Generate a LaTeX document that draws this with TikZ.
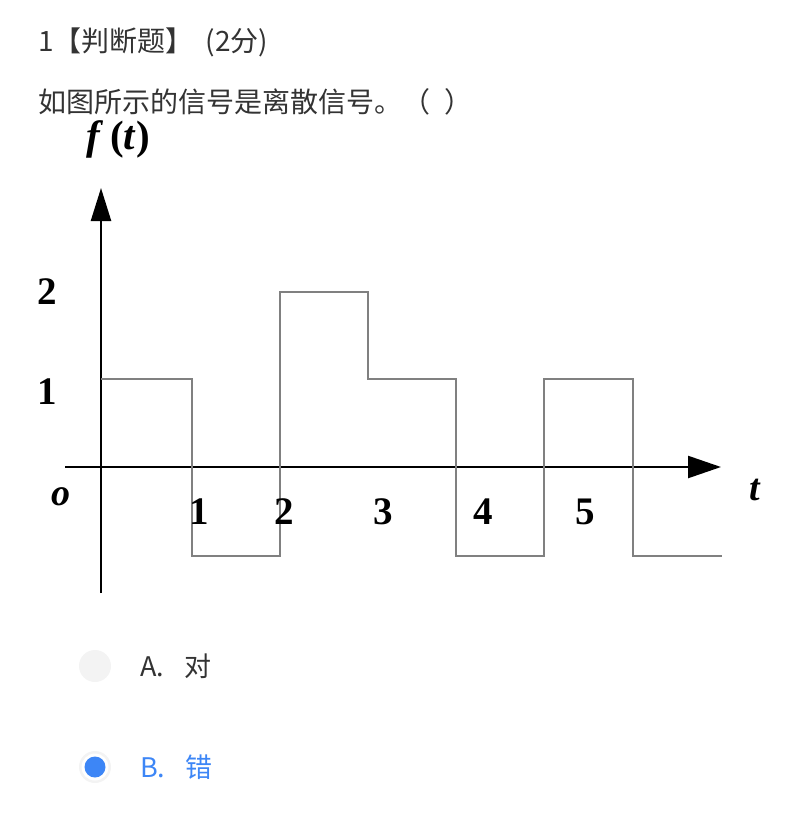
\documentclass[tikz,border=0pt]{standalone}
\usepackage{fontspec}
\setmainfont{Liberation Serif}
\newfontfamily\cjk{Noto Sans CJK SC}
\usetikzlibrary{arrows.meta}
\definecolor{txtgray}{HTML}{333333}
\definecolor{optblue}{HTML}{3D86F6}
\definecolor{sig}{HTML}{808080}
\definecolor{radiogray}{HTML}{F3F3F3}
\begin{document}
\begin{tikzpicture}[x=1pt,y=-1pt,
  cjktext/.style={anchor=west,inner sep=0pt,font=\cjk\fontsize{27}{32}\selectfont,text=txtgray},
  headtext/.style={cjktext,font=\cjk\fontsize{28}{33}\selectfont},
  numlbl/.style={inner sep=0pt,font=\bfseries\fontsize{39}{41}\selectfont},
  axis/.style={line width=2.4pt,black},
  signal/.style={line width=1.6pt,sig},
  radio/.style={circle,inner sep=0pt,minimum size=32pt}]
\useasboundingbox (0,0) rectangle (807,835);
% header texts
\node[headtext] (q) at (38,42) {1【判断题】\hspace{12pt}(2分)};
\node[headtext] (stem) at (38,102) {如图所示的信号是离散信号。（\hspace{14pt}）};
% axes
\coordinate (xs) at (65,467);
\coordinate (xe) at (721,467);
\coordinate (ys) at (101,593);
\coordinate (ye) at (101,188);
\draw[axis,-{Triangle[length=33pt,width=22pt]}] (xs) -- (xe);
\draw[axis,-{Triangle[length=33pt,width=20pt]}] (ys) -- (ye);
% signal
\draw[signal] (101,379) -- (192,379) -- (192,556) -- (280,556) -- (280,292)
  -- (368,292) -- (368,379) -- (456,379) -- (456,556) -- (544,556)
  -- (544,379) -- (633,379) -- (633,556) -- (722,556);
% labels
\node[inner sep=0pt,font=\fontsize{41}{43}\selectfont] (ft) at (118,139) {\textbf{\textit{f}}\,\textbf{(\textit{t})}};
\node[numlbl] (y2) at (47,292) {2};
\node[numlbl] (y1) at (47,392) {1};
\node[numlbl,font=\bfseries\itshape\fontsize{38}{40}\selectfont] (o) at (61,497) {o};
\node[numlbl] (x1) at (199,512) {1};
\node[numlbl] (x2) at (284,512) {2};
\node[numlbl] (x3) at (383,512) {3};
\node[numlbl] (x4) at (483,512) {4};
\node[numlbl] (x5) at (585,512) {5};
\node[numlbl,font=\bfseries\itshape\fontsize{38}{40}\selectfont] (tl) at (755,490) {t};
% options
\node[radio,fill=radiogray] (ra) at (95,666) {};
\node[cjktext] (oa) at (140,666) {A.\hspace{20pt}对};
\node[radio,fill=radiogray] (rb) at (95,767) {};
\node[circle,inner sep=0pt,minimum size=27pt,fill=white] (rbw) at (95,767) {};
\node[circle,inner sep=0pt,minimum size=21pt,fill=optblue] (rbi) at (95,767) {};
\node[cjktext,text=optblue] (ob) at (140,767) {B.\hspace{20pt}错};
\end{tikzpicture}
\end{document}
